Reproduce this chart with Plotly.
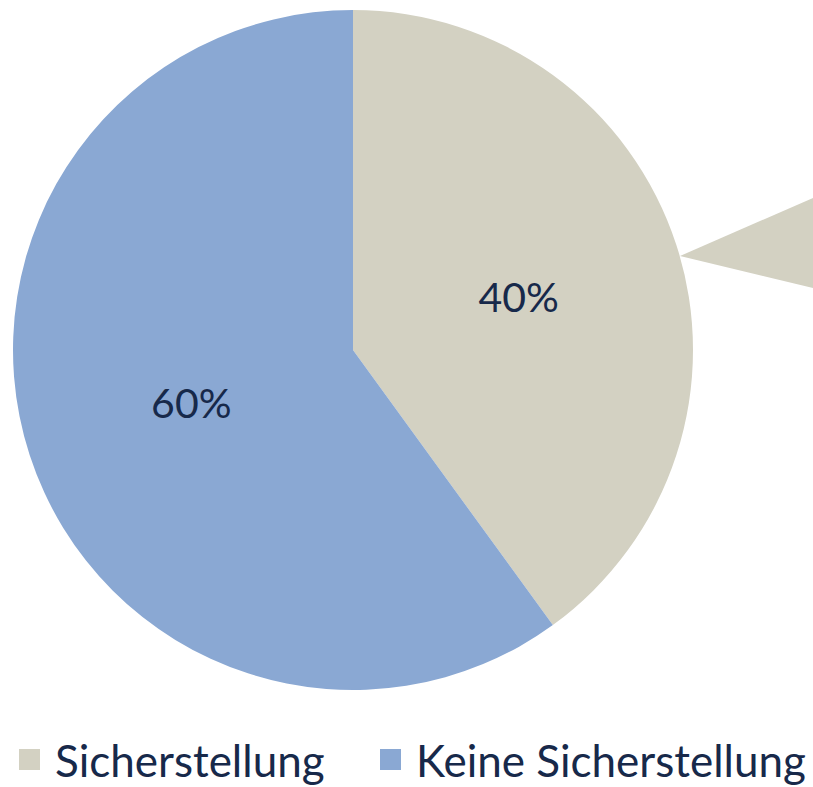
import plotly.graph_objects as go

labels = ["Sicherstellung", "Keine Sicherstellung"]
values = [40, 60]
colors = ["#D3D1C2", "#8AA8D3"]

W, H = 813, 787
cx, cy, r = 353, 350, 340
text_color = "#17294A"

fig = go.Figure(go.Pie(
    labels=labels, values=values, sort=False, direction="clockwise", rotation=0,
    marker=dict(colors=colors, line=dict(width=0)),
    textinfo="percent", texttemplate="%{percent:.0%}", textposition="inside",
    insidetextorientation="horizontal",
    textfont=dict(family="Lato", size=41, color=text_color),
    domain=dict(x=[(cx - r) / W, (cx + r) / W], y=[1 - (cy + r) / H, 1 - (cy - r) / H]),
    hoverinfo="label+percent", showlegend=False,
))

# legend entries (one legend per category so that they can be spaced like the original)
legend_names = ["legend", "legend2"]
for lab, col, lg in zip(labels, colors, legend_names):
    fig.add_trace(go.Scatter(
        x=[None], y=[None], mode="markers", name=lab, legend=lg,
        marker=dict(symbol="square", size=16, color=col, line=dict(width=10, color=col)),
        showlegend=True, hoverinfo="skip",
    ))

fig.add_shape(type="path", xref="paper", yref="paper",
              path=f"M {680/W},{1-256/H} L 1,{1-198/H} L 1,{1-288/H} Z",
              fillcolor=colors[0], line=dict(width=0), layer="below")

leg_common = dict(orientation="h", yanchor="middle", y=1 - 760 / H, xanchor="left",
                  font=dict(family="Lato", size=44, color=text_color),
                  itemwidth=41, bgcolor="rgba(0,0,0,0)")

fig.update_layout(
    width=W, height=H, margin=dict(l=0, r=0, t=0, b=0, autoexpand=False),
    paper_bgcolor="white", plot_bgcolor="white",
    showlegend=True,
    xaxis=dict(visible=False), yaxis=dict(visible=False),
    legend=dict(x=4 / W, **leg_common),
    legend2=dict(x=365 / W, **leg_common),
)

fig.write_html("out.html", post_script="document.body.style.margin='0';",
               config={"displayModeBar": False})
